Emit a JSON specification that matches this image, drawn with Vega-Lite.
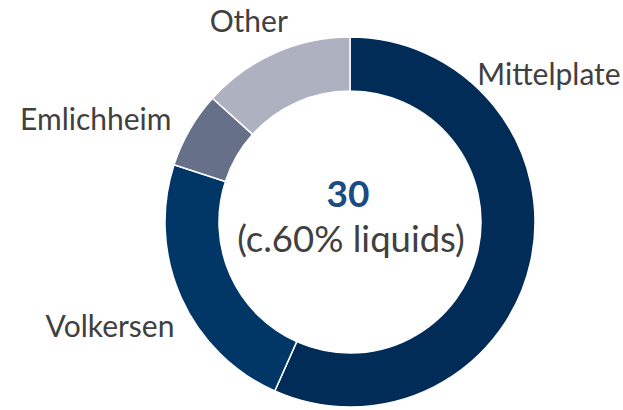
{
  "$schema": "https://vega.github.io/schema/vega-lite/v6.json",
  "width": 400,
  "height": 376,
  "autosize": {"type": "none"},
  "padding": {"left": 150, "top": 34, "right": 73, "bottom": 0},
  "background": "white",
  "view": {"stroke": null},
  "data": {
    "values": [
      {"name": "Mittelplate", "value": 17, "ord": 1},
      {"name": "Volkersen", "value": 7, "ord": 2},
      {"name": "Emlichheim", "value": 2, "ord": 3},
      {"name": "Other", "value": 4, "ord": 4}
    ]
  },
  "layer": [
    {
      "mark": {"type": "arc", "innerRadius": 131, "outerRadius": 185, "stroke": "white", "strokeWidth": 1.5},
      "encoding": {
        "theta": {"field": "value", "type": "quantitative", "stack": true},
        "order": {"field": "ord", "type": "quantitative"},
        "color": {
          "field": "name",
          "type": "nominal",
          "scale": {
            "domain": ["Mittelplate", "Volkersen", "Emlichheim", "Other"],
            "range": ["#002C57", "#003767", "#667089", "#ADB1C0"]
          },
          "legend": null
        }
      }
    },
    {
      "mark": {"type": "text", "radius": 185, "dx": 18, "dy": -175, "align": "center", "baseline": "alphabetic", "font": "Lato", "fontSize": 30, "color": "#404040"},
      "encoding": {
        "theta": {"field": "value", "type": "quantitative", "stack": true},
        "order": {"field": "ord", "type": "quantitative"},
        "detail": {"field": "name", "type": "nominal"},
        "text": {"condition": {"test": "datum.name === 'Mittelplate'", "field": "name"}, "value": ""}
      }
    },
    {
      "mark": {"type": "text", "radius": 185, "dx": -71, "dy": 39.5, "align": "center", "baseline": "alphabetic", "font": "Lato", "fontSize": 30, "color": "#404040"},
      "encoding": {
        "theta": {"field": "value", "type": "quantitative", "stack": true},
        "order": {"field": "ord", "type": "quantitative"},
        "detail": {"field": "name", "type": "nominal"},
        "text": {"condition": {"test": "datum.name === 'Volkersen'", "field": "name"}, "value": ""}
      }
    },
    {
      "mark": {"type": "text", "radius": 185, "dx": -94, "dy": 0, "align": "center", "baseline": "alphabetic", "font": "Lato", "fontSize": 30, "color": "#404040"},
      "encoding": {
        "theta": {"field": "value", "type": "quantitative", "stack": true},
        "order": {"field": "ord", "type": "quantitative"},
        "detail": {"field": "name", "type": "nominal"},
        "text": {"condition": {"test": "datum.name === 'Emlichheim'", "field": "name"}, "value": ""}
      }
    },
    {
      "mark": {"type": "text", "radius": 185, "dx": -26, "dy": -20.7, "align": "center", "baseline": "alphabetic", "font": "Lato", "fontSize": 30, "color": "#404040"},
      "encoding": {
        "theta": {"field": "value", "type": "quantitative", "stack": true},
        "order": {"field": "ord", "type": "quantitative"},
        "detail": {"field": "name", "type": "nominal"},
        "text": {"condition": {"test": "datum.name === 'Other'", "field": "name"}, "value": ""}
      }
    },
    {
      "data": {"values": [{"t": "30"}]},
      "mark": {"type": "text", "dx": -2, "dy": -15.3, "align": "center", "baseline": "alphabetic", "font": "Lato", "fontWeight": "bold", "fontSize": 37, "color": "#1B4A84"},
      "encoding": {"text": {"field": "t", "type": "nominal"}}
    },
    {
      "data": {"values": [{"t": "(c.60% liquids)"}]},
      "mark": {"type": "text", "dx": 1, "dy": 30, "align": "center", "baseline": "alphabetic", "font": "Lato", "fontSize": 36.5, "color": "#404040"},
      "encoding": {"text": {"field": "t", "type": "nominal"}}
    }
  ]
}
